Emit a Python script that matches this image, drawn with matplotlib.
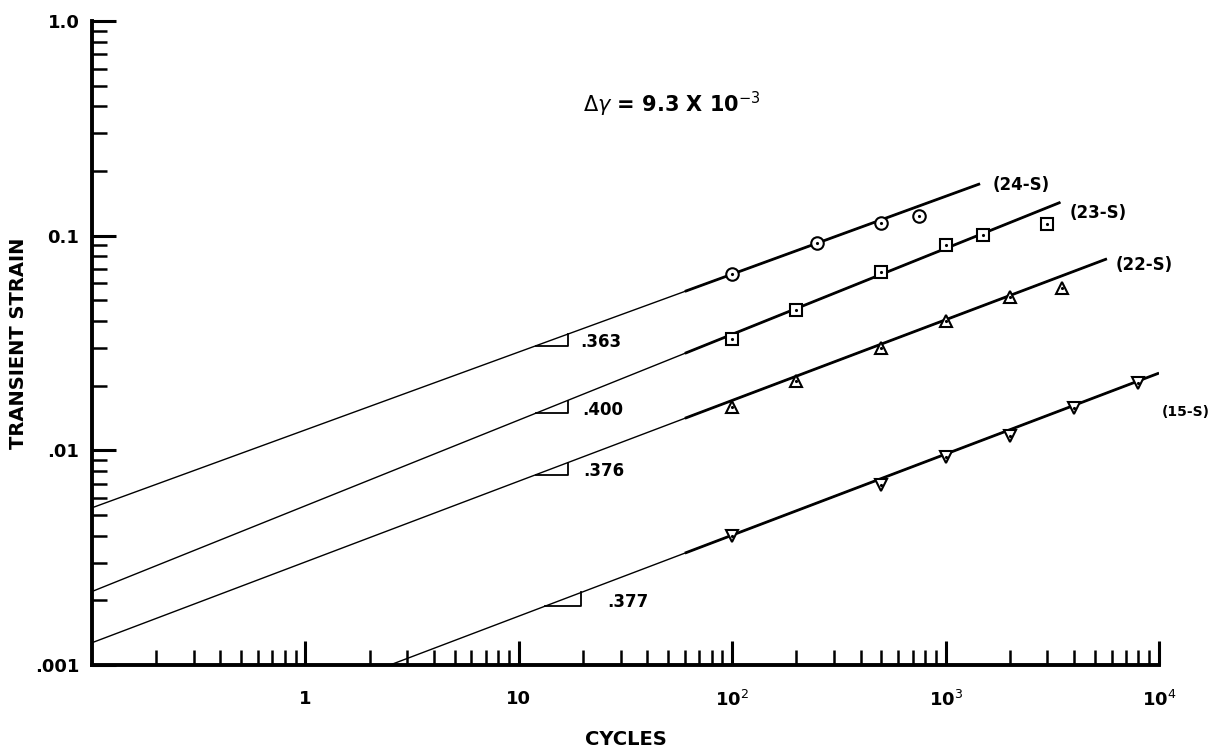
import matplotlib

matplotlib.use("Agg")
import matplotlib.pyplot as plt
from matplotlib.ticker import FixedLocator, LogLocator, NullFormatter

plt.rcParams["font.family"] = ["DejaVu Sans"]
plt.rcParams["mathtext.fontset"] = "dejavusans"

# measured points per specimen
cycles_24 = [100, 250, 500, 750]
strain_24 = [0.066, 0.092, 0.114, 0.124]
cycles_23 = [100, 200, 500, 1000, 1500, 3000]
strain_23 = [0.033, 0.045, 0.068, 0.090, 0.101, 0.113]
cycles_22 = [100, 200, 500, 1000, 2000, 3500]
strain_22 = [0.016, 0.021, 0.030, 0.040, 0.052, 0.057]
cycles_15 = [100, 500, 1000, 2000, 4000, 8000]
strain_15 = [0.0040, 0.0069, 0.0093, 0.0116, 0.0158, 0.0205]

# fitted lines: start, start of the data range, end
fit_x_24 = [0.1, 60, 1450]
fit_y_24 = [0.0054, 0.0550, 0.1745]
fit_x_23 = [0.1, 60, 3450]
fit_y_23 = [0.0022, 0.0283, 0.143]
fit_x_22 = [0.1, 60, 5700]
fit_y_22 = [0.00127, 0.0141, 0.078]
fit_x_15 = [2.49, 60, 10000]
fit_y_15 = [0.001, 0.00332, 0.0229]

# slope triangles
slope_labels = [".363", ".400", ".376", ".377"]
tri_x0 = [12, 12, 12, 13.3]
tri_x1 = [17, 17, 17, 19.6]
tri_ylo = [0.0307, 0.01486, 0.00769, 0.00188]
tri_yhi = [0.0348, 0.01706, 0.00877, 0.00218]
slope_text_x = [19.5, 19.8, 20.0, 26.0]

specimens = ["(24-S)", "(23-S)", "(22-S)", "(15-S)"]
spec_x = [1663, 3820, 6270, 10300]
spec_y = [0.172, 0.128, 0.073, 0.0151]
spec_size = [12, 12, 12, 10]

x_ticks = [1, 10, 100, 1000, 10000]
x_labels = ["1", "10", "10$^{2}$", "10$^{3}$", "10$^{4}$"]
y_ticks = [0.001, 0.01, 0.1, 1.0]
y_labels = [".001", ".01", "0.1", "1.0"]

fig = plt.figure(figsize=(12.1, 7.51), dpi=100)
ax = fig.add_axes([92 / 1210, 1 - 665 / 751, 1067 / 1210, 644 / 751])
ax.set_xscale("log")
ax.set_yscale("log")
ax.set_xlim(0.1, 10000)
ax.set_ylim(0.001, 1.0)

series = [
    (cycles_24, strain_24, fit_x_24, fit_y_24, "o"),
    (cycles_23, strain_23, fit_x_23, fit_y_23, "s"),
    (cycles_22, strain_22, fit_x_22, fit_y_22, "^"),
    (cycles_15, strain_15, fit_x_15, fit_y_15, "v"),
]
for cx, cy, fx, fy, mk in series:
    ax.plot(fx, fy, color="black", lw=1.0, solid_capstyle="butt")
    ax.plot(fx[1:], fy[1:], color="black", lw=2.0, solid_capstyle="butt")
    ax.plot(cx, cy, linestyle="none", marker=mk, ms=9 if mk != "s" else 8.5,
            mfc="white", mec="black", mew=1.5, zorder=3)
    ax.plot(cx, cy, linestyle="none", marker=".", ms=2.5, color="black", zorder=4)

for i in range(len(slope_labels)):
    ax.plot([tri_x0[i], tri_x1[i], tri_x1[i]], [tri_ylo[i], tri_ylo[i], tri_yhi[i]],
            color="black", lw=1.3)
    ax.text(slope_text_x[i], tri_ylo[i] * 1.04, slope_labels[i], fontsize=12,
            fontweight="bold", ha="left", va="center")

for name, sx, sy, fs in zip(specimens, spec_x, spec_y, spec_size):
    ax.text(sx, sy, name, fontsize=fs, fontweight="bold", ha="left", va="center")

ax.text(20, 0.41, r"$\Delta\gamma$ = 9.3 X 10$^{-3}$", fontsize=15, fontweight="bold",
        ha="left", va="center")

for side in ["top", "right"]:
    ax.spines[side].set_visible(False)
for side in ["left", "bottom"]:
    ax.spines[side].set_linewidth(2.8)

ax.xaxis.set_major_locator(FixedLocator(x_ticks))
ax.set_xticklabels(x_labels)
ax.yaxis.set_major_locator(FixedLocator(y_ticks))
ax.set_yticklabels(y_labels)
ax.xaxis.set_minor_locator(LogLocator(base=10, subs=range(2, 10), numticks=20))
ax.yaxis.set_minor_locator(LogLocator(base=10, subs=range(2, 10), numticks=20))
ax.xaxis.set_minor_formatter(NullFormatter())
ax.yaxis.set_minor_formatter(NullFormatter())

ax.tick_params(which="major", direction="in", length=17, width=2.2, labelsize=13, pad=18)
ax.tick_params(which="minor", direction="in", length=10.5, width=1.8)
ax.tick_params(axis="y", which="major", pad=9)
for lab in ax.get_xticklabels() + ax.get_yticklabels():
    lab.set_fontweight("bold")

ax.set_xlabel("CYCLES", fontsize=14, fontweight="bold", labelpad=14)
ax.set_ylabel("TRANSIENT STRAIN", fontsize=14, fontweight="bold", labelpad=5)

fig.savefig("out.png", dpi=100)
